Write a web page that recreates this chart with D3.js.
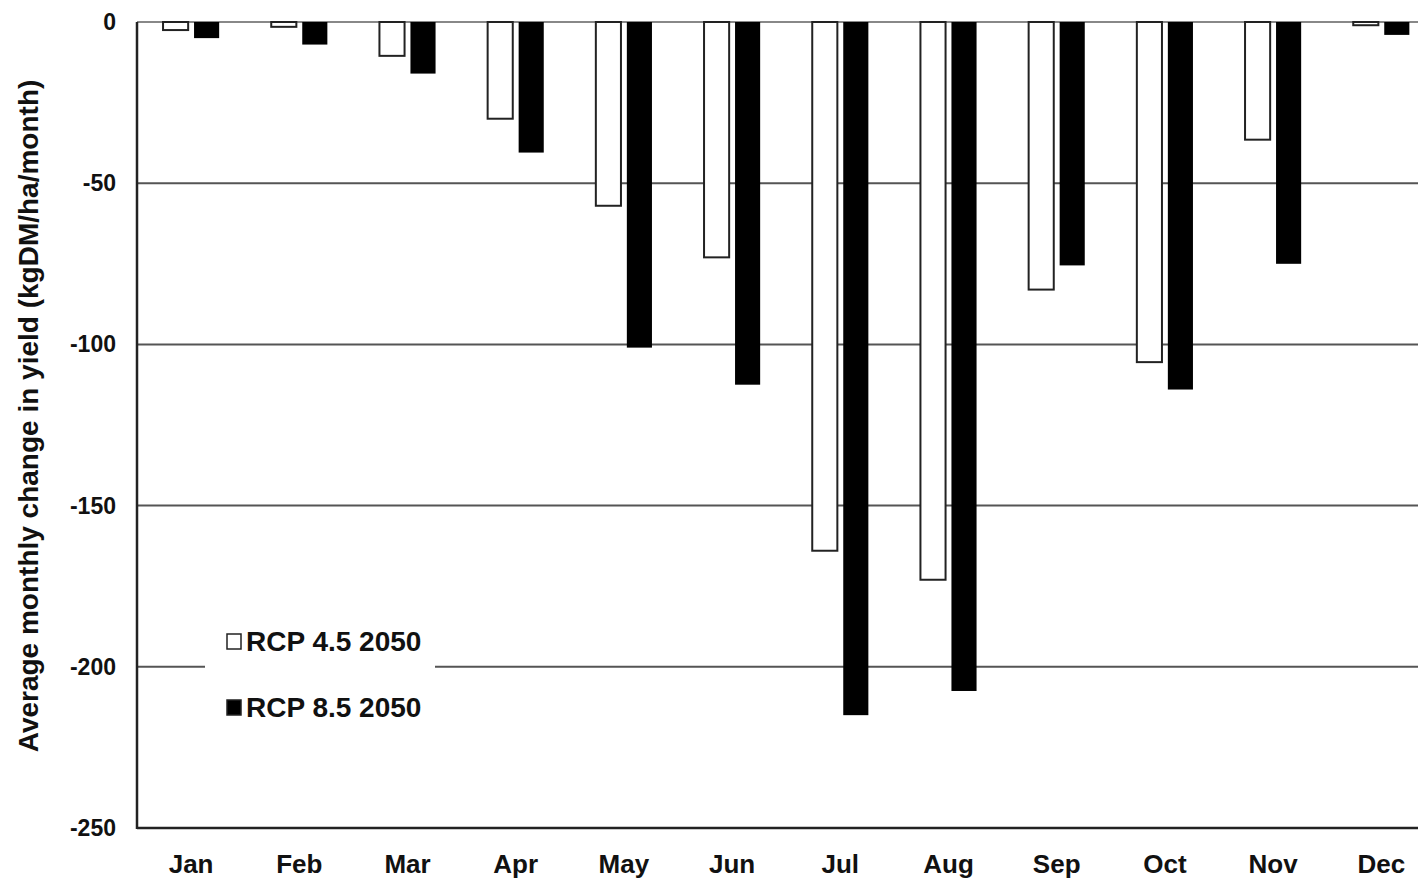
<!DOCTYPE html>
<html>
<head>
<meta charset="utf-8">
<script src="https://cdn.jsdelivr.net/npm/d3@7"></script>
<style>
  body { margin: 0; background: #fff; }
  text { font-family: "Liberation Sans", Arial, sans-serif; font-weight: bold; }
</style>
</head>
<body>
<svg width="1418" height="878"></svg>
<script>
// data
const months = ["Jan", "Feb", "Mar", "Apr", "May", "Jun", "Jul", "Aug", "Sep", "Oct", "Nov", "Dec"];
const seriesNames = ["RCP 4.5 2050", "RCP 8.5 2050"];
const rcp45 = [-2.5, -1.5, -10.5, -30, -57, -73, -164, -173, -83, -105.5, -36.5, -1];
const rcp85 = [-5, -7, -16, -40.5, -101, -112.5, -215, -207.5, -75.5, -114, -75, -4];
const yTicks = [0, -50, -100, -150, -200, -250];

const svg = d3.select("svg"),
    width = +svg.attr("width"),
    height = +svg.attr("height");

const plotLeft = 137, plotTop = 22, plotBottom = 828;

// x scales (plot runs past the right edge of the picture)
const x0 = d3.scaleBand()
    .domain(months)
    .range([plotLeft, plotLeft + 12 * 108.2]);

const x1 = d3.scaleBand()
    .domain(seriesNames)
    .range([0, x0.bandwidth()])
    .paddingInner(0.19)
    .paddingOuter(0.84);

const y = d3.scaleLinear()
    .domain([0, -250])
    .range([plotTop, plotBottom]);

const fills = {"RCP 4.5 2050": "#fff", "RCP 8.5 2050": "#000"};

// gridlines
svg.append("g")
    .selectAll("line")
    .data(yTicks.filter(d => d > -250))
    .join("line")
    .attr("x1", plotLeft)
    .attr("x2", width)
    .attr("y1", d => y(d))
    .attr("y2", d => y(d))
    .attr("stroke", d => d === 0 ? "#888" : "#555")
    .attr("stroke-width", 2);

// bars
const rows = months.map((m, i) => ({month: m, values: [
    {key: seriesNames[0], value: rcp45[i]},
    {key: seriesNames[1], value: rcp85[i]}
]}));

svg.append("g")
    .selectAll("g")
    .data(rows)
    .join("g")
    .attr("transform", d => `translate(${x0(d.month)},0)`)
    .selectAll("rect")
    .data(d => d.values)
    .join("rect")
    .attr("x", d => x1(d.key))
    .attr("y", y(0))
    .attr("width", x1.bandwidth())
    .attr("height", d => y(d.value) - y(0))
    .attr("fill", d => fills[d.key])
    .attr("stroke", d => d.key === seriesNames[0] ? "#222" : "none")
    .attr("stroke-width", 2);

// axes lines
svg.append("line")
    .attr("x1", plotLeft).attr("x2", plotLeft)
    .attr("y1", plotTop).attr("y2", plotBottom + 1)
    .attr("stroke", "#222").attr("stroke-width", 2.5);
svg.append("line")
    .attr("x1", plotLeft).attr("x2", width)
    .attr("y1", plotBottom).attr("y2", plotBottom)
    .attr("stroke", "#222").attr("stroke-width", 2.5);

// y tick labels
svg.append("g")
    .selectAll("text")
    .data(yTicks)
    .join("text")
    .attr("x", 116)
    .attr("y", d => y(d) + 8)
    .attr("text-anchor", "end")
    .style("font-size", "23px")
    .style("fill", "#111")
    .text(d => d);

// x tick labels
svg.append("g")
    .selectAll("text")
    .data(months)
    .join("text")
    .attr("x", d => x0(d) + x0.bandwidth() / 2)
    .attr("y", 873)
    .attr("text-anchor", "middle")
    .style("font-size", "26px")
    .style("fill", "#111")
    .text(d => d);

// y axis title
svg.append("text")
    .attr("transform", "translate(38,416) rotate(-90)")
    .attr("text-anchor", "middle")
    .style("font-size", "28px")
    .style("fill", "#111")
    .text("Average monthly change in yield (kgDM/ha/month)");

// legend
const legend = svg.append("g");
legend.append("rect")
    .attr("x", 205).attr("y", 618)
    .attr("width", 230).attr("height", 110)
    .attr("fill", "#fff");
legend.selectAll("rect.key")
    .data(seriesNames)
    .join("rect")
    .attr("class", "key")
    .attr("x", 227)
    .attr("y", (d, i) => 634 + i * 66)
    .attr("width", 14).attr("height", 15)
    .attr("fill", d => fills[d])
    .attr("stroke", "#222")
    .attr("stroke-width", 1.5);
legend.selectAll("text")
    .data(seriesNames)
    .join("text")
    .attr("x", 246)
    .attr("y", (d, i) => 651 + i * 66)
    .style("font-size", "28px")
    .style("fill", "#111")
    .text(d => d);
</script>
</body>
</html>
